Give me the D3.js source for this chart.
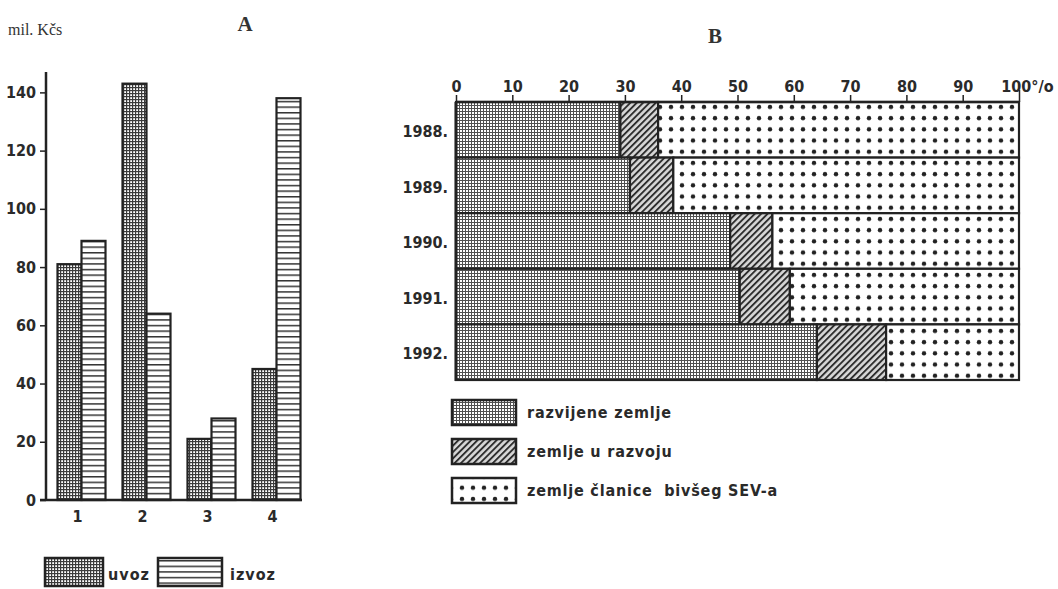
<!DOCTYPE html>
<html><head><meta charset="utf-8">
<script src="https://cdn.jsdelivr.net/npm/d3@7/dist/d3.min.js"></script>
<style>
body{margin:0;background:#fff;}
svg{display:block;}
.tk{font-family:"DejaVu Sans Condensed","DejaVu Sans",sans-serif;font-size:16px;font-weight:bold;fill:#2a2a2a;}
</style></head>
<body>
<svg id="c" width="1058" height="589"></svg>
<script>
// ---- Data: chart A ----
const groups = ["1", "2", "3", "4"];
const seriesA = ["uvoz", "izvoz"];
const uvoz = [81, 143, 21, 45];
const izvoz = [89, 64, 28, 138];
const yTicksA = [0, 20, 40, 60, 80, 100, 120, 140];

// ---- Data: chart B ----
const years = ["1988.", "1989.", "1990.", "1991.", "1992."];
const seriesB = ["razvijene zemlje", "zemlje u razvoju", "zemlje članice  bivšeg SEV-a"];
const razvijene = [29.2, 30.9, 48.7, 50.4, 64.1];
const razvoju = [6.7, 7.7, 7.5, 8.9, 12.3];
const sev = [64.1, 61.4, 43.8, 40.7, 23.6];
const xTicksB = [0, 10, 20, 30, 40, 50, 60, 70, 80, 90, 100];

const svg = d3.select("#c");
const ink = "#222";
const defs = svg.append("defs");

// patterns
function gridPat(id, s, col, w) {
  const p = defs.append("pattern").attr("id", id).attr("patternUnits", "userSpaceOnUse")
    .attr("width", s).attr("height", s);
  p.append("rect").attr("width", s).attr("height", s).attr("fill", "#fff");
  p.append("rect").attr("x", 0).attr("y", 0).attr("width", s).attr("height", w).attr("fill", col);
  p.append("rect").attr("x", 0).attr("y", 0).attr("width", w).attr("height", s).attr("fill", col);
}
gridPat("pUvoz", 3, "#3a3a3a", 1.2);
gridPat("pRazv", 3, "#505050", 1);
(function () {
  const p = defs.append("pattern").attr("id", "pIzvoz").attr("patternUnits", "userSpaceOnUse")
    .attr("width", 8).attr("height", 5.6);
  p.append("rect").attr("width", 8).attr("height", 5.6).attr("fill", "#fff");
  p.append("rect").attr("y", 0).attr("width", 8).attr("height", 1.5).attr("fill", "#333");
})();
(function () {
  const p = defs.append("pattern").attr("id", "pHatch").attr("patternUnits", "userSpaceOnUse")
    .attr("width", 4.5).attr("height", 4.5).attr("patternTransform", "rotate(45)");
  p.append("rect").attr("width", 4.5).attr("height", 4.5).attr("fill", "#d8d8d8");
  p.append("rect").attr("x", 0).attr("width", 1.9).attr("height", 4.5).attr("fill", "#2e2e2e");
})();
(function () {
  const p = defs.append("pattern").attr("id", "pDots").attr("patternUnits", "userSpaceOnUse")
    .attr("width", 11).attr("height", 11.2).attr("x", 456 + 3).attr("y", 102 + 2);
  p.append("rect").attr("width", 11).attr("height", 11.2).attr("fill", "#fff");
  p.append("circle").attr("cx", 3).attr("cy", 3).attr("r", 2.2).attr("fill", "#222");
})();

// ===== Chart A =====
const valsA = { uvoz: uvoz, izvoz: izvoz };
const fillA = { uvoz: "url(#pUvoz)", izvoz: "url(#pIzvoz)" };
const x0 = d3.scaleBand().domain(groups).range([49, 309]).padding(0);
const x1 = d3.scaleBand().domain(seriesA).range([8.5, 56.5]).padding(0);
const yA = d3.scaleLinear().domain([0, 147]).range([500, 72]);

const gA = svg.append("g");
groups.forEach((g, i) => {
  seriesA.forEach(s => {
    const v = valsA[s][i];
    gA.append("rect")
      .attr("x", x0(g) + x1(s)).attr("y", yA(v))
      .attr("width", x1.bandwidth()).attr("height", yA(0) - yA(v))
      .attr("fill", fillA[s]).attr("stroke", ink).attr("stroke-width", 2.2);
  });
});

// y axis
const yAxisA = d3.axisLeft(yA).tickValues(yTicksA).tickSize(6).tickPadding(4);
const gy = svg.append("g").attr("transform", "translate(46,0)").call(yAxisA);
gy.select(".domain").remove();
gy.selectAll(".tick line").attr("stroke", ink).attr("stroke-width", 1.5);
gy.selectAll(".tick text").attr("class", "tk");
svg.append("line").attr("x1", 46).attr("x2", 46).attr("y1", yA(147)).attr("y2", yA(0) + 1)
  .attr("stroke", ink).attr("stroke-width", 2.5);
svg.append("line").attr("x1", 40).attr("x2", 302).attr("y1", yA(0)).attr("y2", yA(0))
  .attr("stroke", ink).attr("stroke-width", 2.5);

// x axis labels
const xAxisA = d3.axisBottom(x0).tickSize(0).tickPadding(11);
const gx = svg.append("g").attr("transform", `translate(-4,${yA(0)})`).call(xAxisA);
gx.select(".domain").remove();
gx.selectAll(".tick text").attr("class", "tk");

svg.append("text").attr("x", 8).attr("y", 35)
  .style("font-family", "'Liberation Serif','DejaVu Serif',serif").style("font-size", "16px").attr("fill", "#333")
  .text("mil. Kčs");
svg.append("text").attr("x", 245).attr("y", 31).attr("text-anchor", "middle")
  .style("font-family", "'Liberation Serif','DejaVu Serif',serif").style("font-size", "21px").style("font-weight", "bold").attr("fill", "#333")
  .text("A");

// legend A
const legA = [{ s: "uvoz", x: 45, w: 58, tx: 108 }, { s: "izvoz", x: 158, w: 64, tx: 230 }];
legA.forEach(l => {
  svg.append("rect").attr("x", l.x).attr("y", 558).attr("width", l.w).attr("height", 28)
    .attr("fill", fillA[l.s]).attr("stroke", ink).attr("stroke-width", 2.5);
  svg.append("text").attr("class", "tk").attr("x", l.tx).attr("y", 580)
    .style("letter-spacing", "1px").text(l.s);
});

// ===== Chart B =====
const valsB = [razvijene, razvoju, sev];
const fillB = ["url(#pRazv)", "url(#pHatch)", "url(#pDots)"];
const xB = d3.scaleLinear().domain([0, 100]).range([456, 1019]);
const yB = d3.scaleBand().domain(years).range([102, 380]).padding(0);

const gB = svg.append("g");
years.forEach((yr, i) => {
  let acc = 0;
  valsB.forEach((arr, k) => {
    const v = arr[i];
    gB.append("rect")
      .attr("x", xB(acc)).attr("y", yB(yr))
      .attr("width", xB(acc + v) - xB(acc)).attr("height", yB.bandwidth())
      .attr("fill", fillB[k]).attr("stroke", ink).attr("stroke-width", 2.2);
    acc += v;
  });
});
svg.append("line").attr("x1", xB(0)).attr("x2", xB(0)).attr("y1", 102).attr("y2", 381)
  .attr("stroke", ink).attr("stroke-width", 3);

// top axis
const xAxisB = d3.axisTop(xB).tickValues(xTicksB).tickSize(7).tickPadding(3)
  .tickFormat(d => d === 100 ? "100°/o" : d);
const gxb = svg.append("g").attr("transform", "translate(0,102)").call(xAxisB);
gxb.select(".domain").remove();
gxb.selectAll(".tick line").attr("stroke", ink).attr("stroke-width", 1.5);
gxb.selectAll(".tick text").attr("class", "tk");
gxb.selectAll(".tick").filter(d => d === 100).select("text").attr("dx", 8);
gxb.selectAll(".tick").filter(d => d === 100).select("line").attr("y2", -12);
svg.append("line").attr("x1", xB(0)).attr("x2", xB(100)).attr("y1", 102).attr("y2", 102)
  .attr("stroke", ink).attr("stroke-width", 2.5);

// y labels
const yAxisB = d3.axisLeft(yB).tickSize(0).tickPadding(8);
const gyb = svg.append("g").attr("transform", `translate(${xB(0)},2)`).call(yAxisB);
gyb.select(".domain").remove();
gyb.selectAll(".tick text").attr("class", "tk");

svg.append("text").attr("x", 715).attr("y", 43).attr("text-anchor", "middle")
  .style("font-family", "'Liberation Serif','DejaVu Serif',serif").style("font-size", "21px").style("font-weight", "bold").attr("fill", "#333")
  .text("B");

// legend B
const legYs = [400, 439, 478];
seriesB.forEach((s, k) => {
  svg.append("rect").attr("x", 452).attr("y", legYs[k]).attr("width", 64).attr("height", 25)
    .attr("fill", fillB[k]).attr("stroke", ink).attr("stroke-width", 2.5);
  svg.append("text").attr("class", "tk").attr("x", 527).attr("y", legYs[k] + 18)
    .style("letter-spacing", "0.8px").style("white-space", "pre").text(s);
});
</script>
</body></html>
